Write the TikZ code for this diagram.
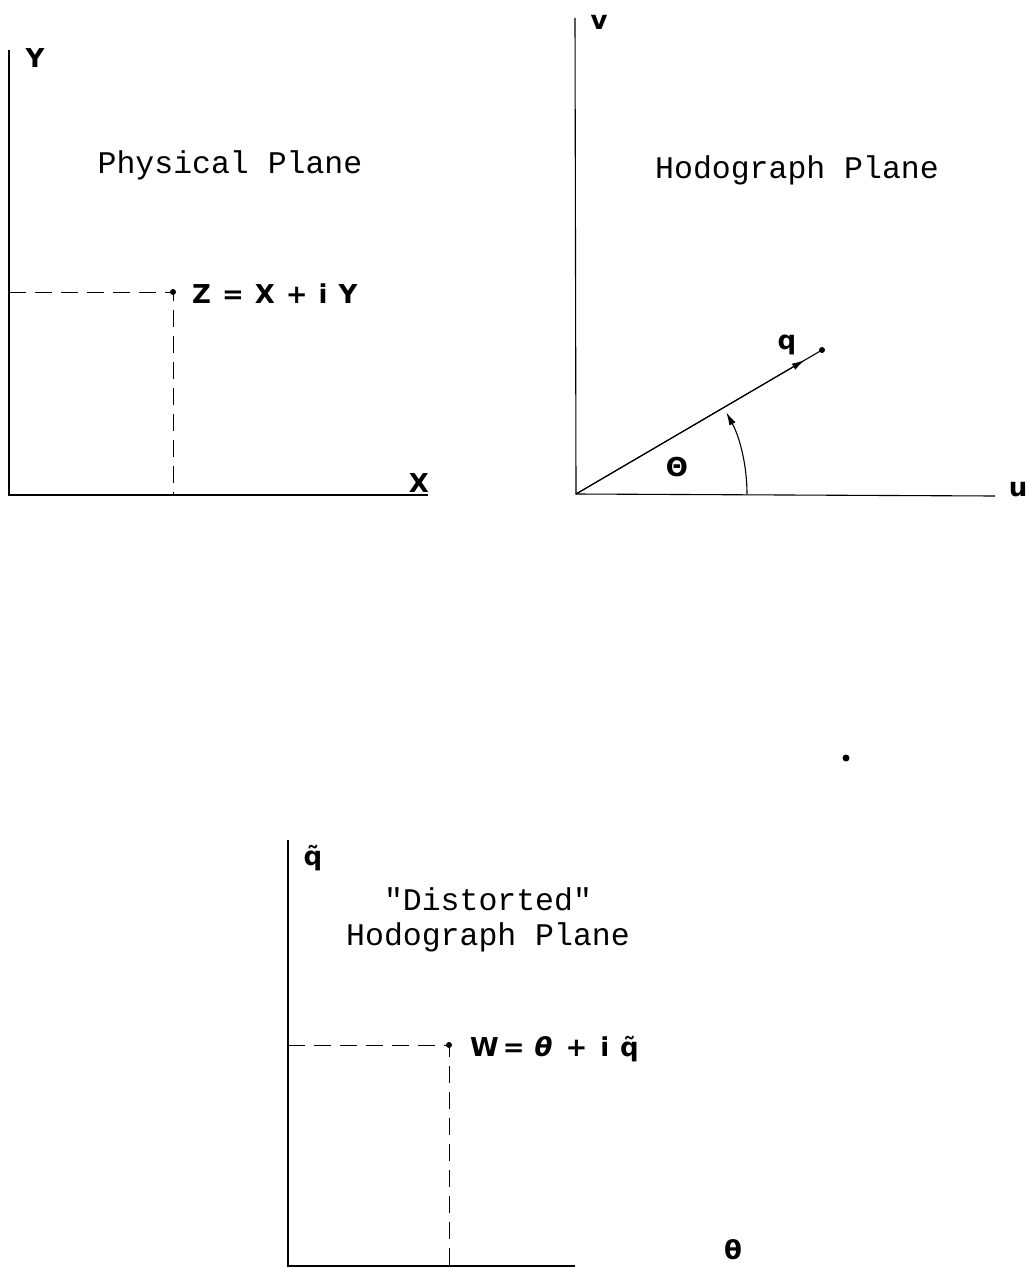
\documentclass[tikz,border=0pt]{standalone}
\usepackage{fontspec}
\setmonofont{Liberation Mono}
\setsansfont{DejaVu Sans}
\usetikzlibrary{arrows.meta,calc}

\tikzset{
  axis/.style={line width=1.1pt},
  guide/.style={line width=1pt,dash pattern=on 17pt off 9pt},
  title/.style={font=\fontsize{31.5}{35}\ttfamily,align=center},
  lbl/.style={font=\fontsize{26}{30}\sffamily\bfseries,inner sep=0pt},
  vec/.style={line width=1.1pt}
}

\begin{document}
\begin{tikzpicture}[x=1pt,y=-1pt]
 \useasboundingbox (0,0) rectangle (1035,1268);
 % physical plane
 \coordinate (O1) at (9,495);
 \coordinate (Z) at (173,292);
 \draw[axis] (9,50) -- (O1) -- (428,495);
 \draw[guide] (O1 |- Z) -- (Z) -- (Z |- O1);
 \fill (Z) circle (3);
 \node[lbl] (ylab) at (35,58) {Y};
 \node[lbl] (xlab) at (419,483) {X};
 \node[lbl,anchor=west] (zlab) at (192,294) {Z\hspace{11pt}=\hspace{11pt}X\hspace{11pt}+\hspace{11pt}i\hspace{11pt}Y};
 \node[title] (phys) at (230,165) {Physical Plane};
 % hodograph plane
 \coordinate (O2) at (576,494);
 \coordinate (Q) at (822,350);
 \draw[axis] (575,18) -- (O2) -- (995,496);
 \draw[vec] (O2) -- (Q);
 \draw[vec,-{Latex[length=13pt,width=7pt]}] (O2) -- ($(O2)!0.93!(Q)$);
 \fill (Q) circle (3);
 \draw[vec,-{Latex[length=13pt,width=7pt]}] (747,494) arc[start angle=0,end angle=-28.5,radius=171];
 \node[lbl] (vlab) at (599,22) {v};
 \node[lbl] (ulab) at (1018,490) {u};
 \node[lbl] (qlab) at (787,345) {q};
 \node[lbl] (thlab) at (677,467) {Θ};
 \node[title] (hodo) at (797,170) {Hodograph Plane};
 \fill (846,758) circle (3.5);
 % distorted hodograph plane
 \coordinate (O3) at (288,1266);
 \coordinate (W) at (449,1045);
 \draw[axis] (288,840) -- (O3) -- (575,1266);
 \draw[guide] (O3 |- W) -- (W) -- (W |- O3);
 \fill (W) circle (3);
 \node[lbl] (qtlab) at (313,858) {q̃};
 \node[lbl] (th2lab) at (733,1250) {θ};
 \node[lbl,anchor=west] (wlab) at (470,1049) {W\hspace{4pt}=\hspace{10pt}\textit{θ}\hspace{13pt}+\hspace{13pt}i\hspace{11pt}q̃};
 \node[title] (dist) at (488,920) {"Distorted"\\Hodograph Plane};
\end{tikzpicture}
\end{document}
